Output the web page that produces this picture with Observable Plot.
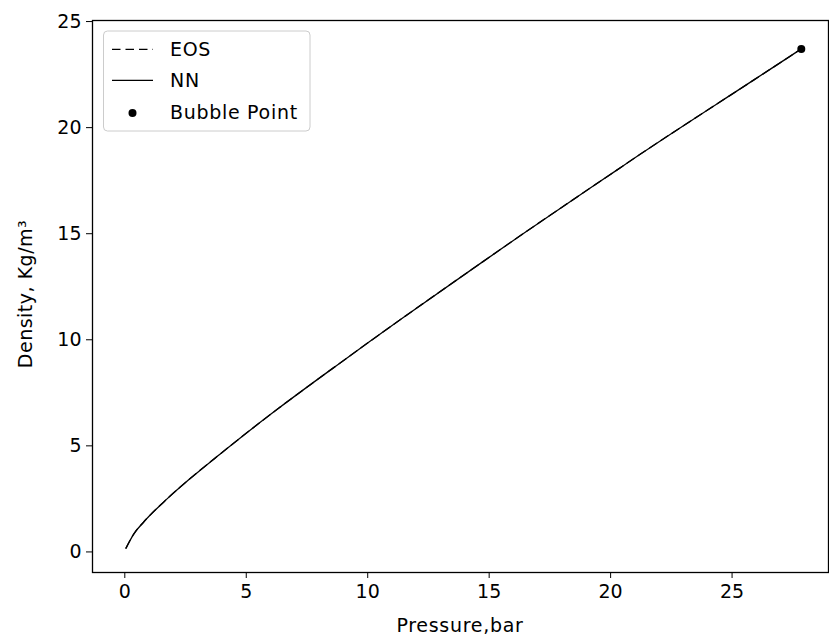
<!DOCTYPE html>
<html>
<head>
<meta charset="utf-8">
<script src="https://cdn.jsdelivr.net/npm/d3@7"></script>
<script src="https://cdn.jsdelivr.net/npm/@observablehq/plot@0.6"></script>
<style>
  html, body { margin: 0; padding: 0; background: #fff; }
  #chart svg { display: block; }
</style>
</head>
<body>
<div id="chart"></div>
<script>
// Data
const pressure = [0.05, 0.36, 0.77, 1.74, 2.63, 3.93, 5.17, 6.33, 8.88, 10.11, 11.32, 14.64, 16.26, 20.27, 21.20, 25.90, 27.85];
const nnDensity = [0.18, 0.83, 1.40, 2.50, 3.40, 4.62, 5.75, 6.77, 8.92, 9.94, 10.93, 13.60, 14.89, 18.01, 18.73, 22.25, 23.71];
const eosDensity = [0.18, 0.83, 1.40, 2.50, 3.40, 4.62, 5.75, 6.77, 8.92, 9.94, 10.93, 13.60, 14.89, 18.01, 18.73, 22.25, 23.71];
const bubblePressure = [27.85];
const bubbleDensity = [23.71];
const xTicks = [0, 5, 10, 15, 20, 25];
const yTicks = [0, 5, 10, 15, 20, 25];
const legendLabels = ["EOS", "NN", "Bubble Point"];
const xLabel = "Pressure,bar";
const yLabel = "Density, Kg/m³";

const nnData = pressure.map((p, i) => ({p, d: nnDensity[i]}));
const eosData = pressure.map((p, i) => ({p, d: eosDensity[i]}));
const bubbleData = bubblePressure.map((p, i) => ({p, d: bubbleDensity[i]}));

const FONT = "'DejaVu Sans', sans-serif";
const DASH = "8.5,5";

const chart = Plot.plot({
  width: 829,
  height: 638,
  marginLeft: 92,
  marginRight: 1,
  marginTop: 20,
  marginBottom: 66,
  style: {fontFamily: FONT, fontSize: "19px", color: "#000", background: "#fff"},
  x: {domain: [-1.33, 28.97]},
  y: {domain: [-0.97, 25.05]},
  marks: [
    Plot.axisX({ticks: xTicks, tickSize: 6, tickPadding: 6, fontSize: 19, label: null, tickFormat: d3.format("d")}),
    Plot.axisY({ticks: yTicks, tickSize: 6, tickPadding: 5, fontSize: 19, label: null, tickFormat: d3.format("d")}),
    Plot.line(eosData, {x: "p", y: "d", stroke: "#000", strokeWidth: 1.3, strokeDasharray: DASH, curve: "monotone-x"}),
    Plot.line(nnData, {x: "p", y: "d", stroke: "#000", strokeWidth: 1.3, curve: "monotone-x"}),
    Plot.dot(bubbleData, {x: "p", y: "d", r: 4, fill: "#000", stroke: "none"}),
    Plot.frame({stroke: "#000", strokeWidth: 1.3})
  ]
});

document.getElementById("chart").appendChild(chart);

const svg = d3.select(chart);

// Axis titles
svg.append("text")
  .attr("x", 460).attr("y", 632)
  .attr("text-anchor", "middle")
  .attr("letter-spacing", "0.7px")
  .attr("font-family", FONT).attr("font-size", 19).attr("fill", "#000")
  .text(xLabel);

svg.append("text")
  .attr("transform", "translate(31.5,294) rotate(-90)")
  .attr("text-anchor", "middle")
  .attr("letter-spacing", "0.5px")
  .attr("font-family", FONT).attr("font-size", 19).attr("fill", "#000")
  .text(yLabel);

// Legend
const lg = svg.append("g").attr("text-anchor", "start");
lg.append("rect")
  .attr("x", 103.5).attr("y", 31).attr("width", 206.5).attr("height", 100)
  .attr("rx", 4).attr("fill", "#fff").attr("fill-opacity", 0.8)
  .attr("stroke", "#cccccc").attr("stroke-width", 1);
const rows = [49.3, 80.3, 113];
lg.append("line").attr("x1", 112).attr("x2", 153).attr("y1", rows[0]).attr("y2", rows[0])
  .attr("stroke", "#000").attr("stroke-width", 1.3).attr("stroke-dasharray", DASH);
lg.append("line").attr("x1", 112).attr("x2", 153).attr("y1", rows[1]).attr("y2", rows[1])
  .attr("stroke", "#000").attr("stroke-width", 1.3);
lg.append("circle").attr("cx", 132.5).attr("cy", rows[2]).attr("r", 4).attr("fill", "#000");
const baselines = [55.5, 87, 119];
legendLabels.forEach((t, i) => {
  lg.append("text").attr("x", 170).attr("y", baselines[i])
    .attr("text-anchor", "start")
    .attr("letter-spacing", "0.7px")
    .attr("font-family", FONT).attr("font-size", 19).attr("fill", "#000")
    .text(t);
});
</script>
</body>
</html>
